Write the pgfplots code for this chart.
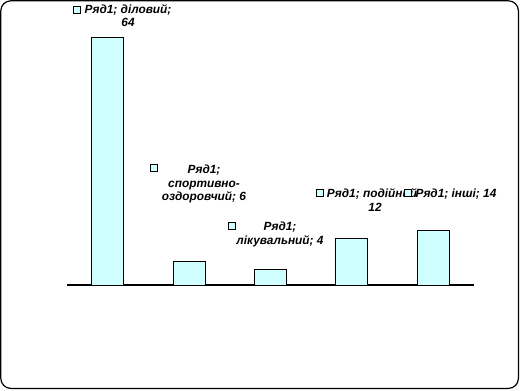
\documentclass[border=0pt]{standalone}
\usepackage{pgfplots}
\pgfplotsset{compat=1.18}
\usepackage{fontspec}
\setmainfont{Liberation Sans}
\definecolor{barfill}{RGB}{208,255,255}
\newcommand{\lbl}{\fontsize{8.9}{10}\selectfont\bfseries\itshape}
\begin{document}
\begin{tikzpicture}
\begin{scope}[x=0.75pt,y=0.75pt]
\useasboundingbox (0,0) rectangle (520,390);
\draw[line width=0.9pt, rounded corners=7.5pt] (0.8,1.6) rectangle (518.4,389.2);
\end{scope}
\begin{axis}[at={(50.25pt,78.75pt)}, anchor=south west,
  width=305.25pt, height=186pt, scale only axis,
  xmin=-0.5, xmax=4.5, ymin=0, ymax=64, enlargelimits=false,
  axis x line=bottom, axis y line=none,
  axis line style={-, line width=0.8pt},
  xtick=\empty, ytick=\empty,
  ybar, bar width=24pt, clip=false]
\addplot[fill=barfill, draw=black, line width=0.75pt] coordinates {(0,64) (1,6) (2,4) (3,12) (4,14)};
\end{axis}
\begin{scope}[x=0.75pt,y=0.75pt, every node/.style={font=\lbl, inner sep=0pt}]
% label 1
\node[anchor=base] at (128,376) {Ряд1; діловий;};
\node[anchor=base] at (128,363) {64};
% label 2
\node[anchor=base] at (204,217) {Ряд1;};
\node[anchor=base] at (204,203) {спортивно-};
\node[anchor=base] at (204,190) {оздоровчий; 6};
% label 3
\node[anchor=base] at (280,160) {Ряд1;};
\node[anchor=base] at (280,146) {лікувальний; 4};
% label 4
\node[anchor=base] at (372,193) {Ряд1; подійний};
\node[anchor=base] at (375,179) {12};
% label 5
\node[anchor=base] at (456,193) {Ряд1; інші; 14};
% legend keys
\begin{scope}[every node/.style={draw=black, fill=barfill, minimum size=5pt, inner sep=0pt, line width=0.7pt}]
\node at (77,380) {};
\node at (154,222) {};
\node at (232,164) {};
\node at (320,197) {};
\node at (408,197) {};
\end{scope}
\end{scope}
\end{tikzpicture}
\end{document}
